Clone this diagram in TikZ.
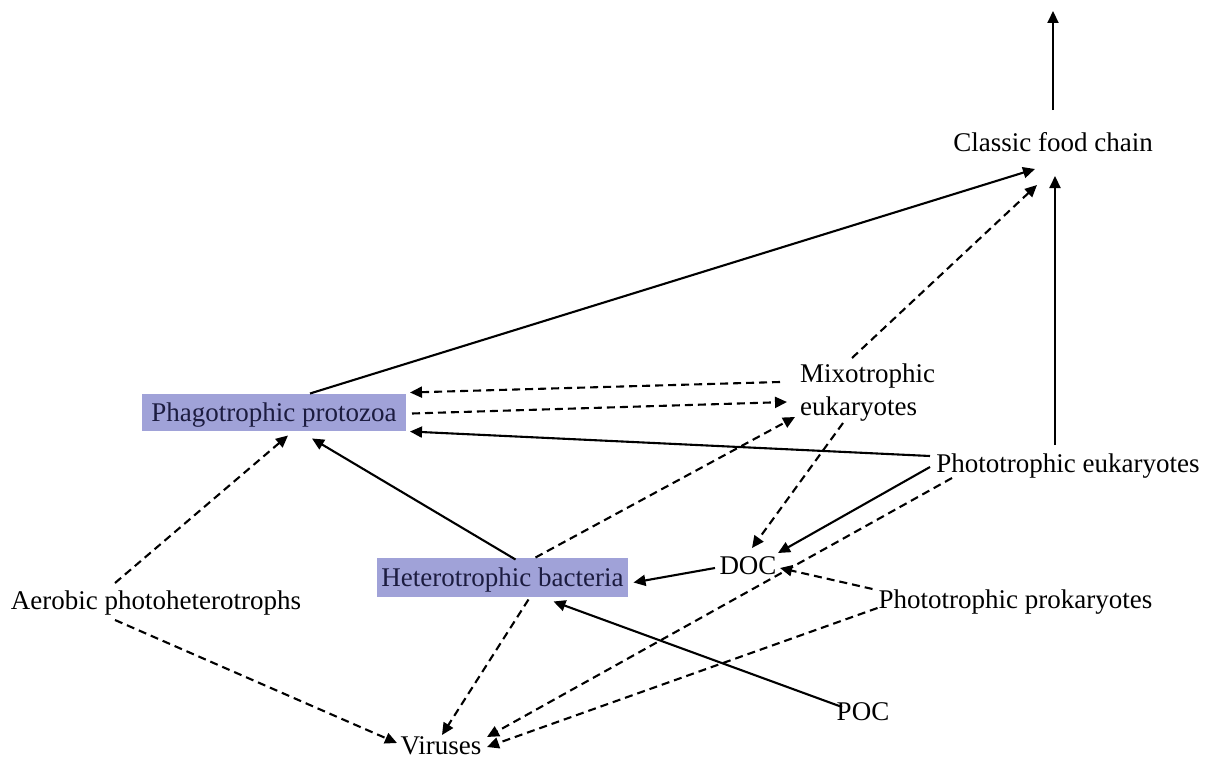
\documentclass[tikz,border=0pt]{standalone}
\usepackage{fontspec}
\setmainfont{Liberation Serif}
\usetikzlibrary{arrows.meta,calc}
\definecolor{boxfill}{RGB}{160,162,216}
\definecolor{boxtext}{RGB}{28,28,64}
\begin{document}
\begin{tikzpicture}[x=1pt,y=-1pt,
  font=\fontsize{27}{33}\selectfont,
  lbl/.style={inner sep=0pt, text height=18pt, text depth=0pt},
  boxed/.style={lbl, fill=boxfill, text=boxtext},
  sol/.style={line width=2.1pt, -{Triangle[length=12pt,width=11pt]}},
  dsh/.style={sol, dash pattern=on 8pt off 5pt}]
\useasboundingbox (0,0) rectangle (1208,760);

% nodes
\node[lbl] (cfc) at (1053,142) {Classic food chain};
\coordinate (top) at (1053,11);
\node[inner sep=0pt, align=left, anchor=north west] (mix) at (800,364) {Mixotrophic\\eukaryotes};
\node[boxed, minimum width=264pt, minimum height=37pt] (phago) at (274,412.5) {Phagotrophic protozoa};
\node[lbl] (pheu) at (1068,463) {Phototrophic eukaryotes};
\node[boxed, minimum width=251pt, minimum height=39pt] (het) at (502.5,577.5) {Heterotrophic bacteria};
\node[lbl] (doc) at (748,565) {DOC};
\node[lbl] (aer) at (156,600) {Aerobic photoheterotrophs};
\node[lbl] (phpr) at (1015.5,599) {Phototrophic prokaryotes};
\node[lbl] (poc) at (863,711) {POC};
\node[lbl] (vir) at (441,745) {Viruses};

% solid connectors
\draw[sol] ($(cfc)+(0,-32)$) -- (top);
\draw[sol] ($(phago)+(36,-19)$) -- ($(cfc)+(-18,27)$);
\draw[sol] ($(pheu)+(-13,-18)$) -- ($(pheu)+(-13,-287)$);
\draw[sol] ($(pheu)+(-138,-7)$) -- ($(phago)+(136,19)$);
\draw[sol] ($(het)+(13,-18)$) -- ($(phago)+(38,26)$);
\draw[sol] ($(doc)+(-33,3)$) -- ($(het)+(131,5)$);
\draw[sol] ($(pheu)+(-138,4)$) -- ($(doc)+(30,-12)$);
\draw[sol] ($(poc)+(-21,-4)$) -- ($(het)+(51,24)$);

% dashed connectors
\draw[dsh] ($(mix.north west)+(-20,18)$) -- ($(phago)+(136,-20)$);
\draw[dsh] ($(phago)+(138,1)$) -- ($(mix.north west)+(-13,38)$);
\draw[dsh] ($(het)+(33,-20)$) -- ($(mix.north west)+(-5,53)$);
\draw[dsh] ($(mix.north west)+(52,-6)$) -- ($(cfc)+(-16,43)$);
\draw[dsh] ($(mix.north west)+(43,59)$) -- ($(doc)+(4,-17)$);
\draw[dsh] ($(aer)+(-41,-17)$) -- ($(phago)+(14,23)$);
\draw[dsh] ($(aer)+(-41,20)$) -- ($(vir)+(-44,-2)$);
\draw[dsh] ($(het)+(26,22)$) -- ($(vir)+(1,-10)$);
\draw[dsh] ($(pheu)+(-116,15)$) -- ($(vir)+(46,-8)$);
\draw[dsh] ($(phpr)+(-143,-10)$) -- ($(doc)+(32,3)$);
\draw[dsh] ($(phpr)+(-138,9)$) -- ($(vir)+(46,2)$);
\end{tikzpicture}
\end{document}
